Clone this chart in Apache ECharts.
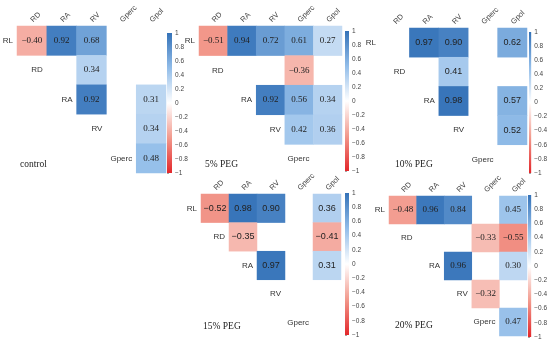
<!DOCTYPE html>
<html>
<head>
<meta charset="utf-8">
<script src="https://cdn.jsdelivr.net/npm/echarts@6/dist/echarts.min.js"></script>
<style>html,body{margin:0;padding:0;background:#fff;}#c{width:550px;height:344px;}</style>
</head>
<body>
<div id="c"></div>
<script>
// categories
const colNames = ['RD', 'RA', 'RV', 'Gperc', 'Gpol'];
const rowNames = ['RL', 'RD', 'RA', 'RV', 'Gperc'];
const panelTitles = ['control', '5% PEG', '10% PEG', '15% PEG', '20% PEG'];
const barTicks = [1, 0.8, 0.6, 0.4, 0.2, 0, -0.2, -0.4, -0.6, -0.8, -1];

// correlation matrices (rows = rowNames, cols = colNames); null = not shown
const controlValues = [
  [-0.40, 0.92, 0.68, null, null],
  [null, null, 0.34, null, null],
  [null, null, 0.92, null, 0.31],
  [null, null, null, null, 0.34],
  [null, null, null, null, 0.48]
];
const peg5Values = [
  [-0.51, 0.94, 0.72, 0.61, 0.27],
  [null, null, null, -0.36, null],
  [null, null, 0.92, 0.56, 0.34],
  [null, null, null, 0.42, 0.36],
  [null, null, null, null, null]
];
const peg10Values = [
  [null, 0.97, 0.90, null, 0.62],
  [null, null, 0.41, null, null],
  [null, null, 0.98, null, 0.57],
  [null, null, null, null, 0.52],
  [null, null, null, null, null]
];
const peg15Values = [
  [-0.52, 0.98, 0.90, null, 0.36],
  [null, -0.35, null, null, -0.41],
  [null, null, 0.97, null, 0.31],
  [null, null, null, null, null],
  [null, null, null, null, null]
];
const peg20Values = [
  [-0.48, 0.96, 0.84, null, 0.45],
  [null, null, null, -0.33, -0.55],
  [null, null, 0.96, null, 0.30],
  [null, null, null, -0.32, null],
  [null, null, null, null, 0.47]
];
const panelValues = [controlValues, peg5Values, peg10Values, peg15Values, peg20Values];

// layout
const panels = [
  {grid: {left: 17, top: 26, width: 149, height: 147}, bar: {left: 167, top: 33, width: 5, height: 140}, title: {left: 15, top: 154}, font: 'Liberation Serif'},
  {grid: {left: 199, top: 26, width: 143, height: 148}, bar: {left: 345, top: 31, width: 4, height: 140}, title: {left: 200, top: 154}, font: 'Liberation Serif'},
  {grid: {left: 380, top: 28, width: 147, height: 146}, bar: {left: 529, top: 32, width: 5, height: 141}, title: {left: 390, top: 154}, font: 'Liberation Sans'},
  {grid: {left: 201, top: 194, width: 140, height: 143}, bar: {left: 345, top: 193, width: 4, height: 142}, title: {left: 198, top: 316}, font: 'Liberation Sans'},
  {grid: {left: 389, top: 196, width: 138, height: 140}, bar: {left: 528, top: 195, width: 5, height: 142}, title: {left: 390, top: 315}, font: 'Liberation Serif'}
];

const colorStops = ['#e3272b', '#f2998c', '#ffffff', '#92bde9', '#3472b8'];

function fmt(v) {
  const s = Math.abs(v).toFixed(2);
  return v < 0 ? '\u2212' + s : s;
}
function fmtTick(v) {
  const r = Math.round(v * 10) / 10;
  return r < 0 ? '\u2212' + Math.abs(r) : String(r);
}

const grids = [], xAxes = [], yAxes = [], series = [], titles = [];
const heatIdx = [];
panels.forEach((p, i) => {
  // heatmap grid
  grids.push(Object.assign({}, p.grid));
  xAxes.push({
    type: 'category', gridIndex: 2 * i, data: colNames, position: 'top',
    axisLine: {show: false}, axisTick: {show: false}, splitLine: {show: false},
    axisLabel: {rotate: -45, fontSize: 7.5, color: '#444', margin: 5, fontFamily: 'Liberation Sans', interval: 0}
  });
  yAxes.push({
    type: 'category', gridIndex: 2 * i, data: rowNames, inverse: true,
    axisLine: {show: false}, axisTick: {show: false}, axisLabel: {show: false}, splitLine: {show: false}
  });
  // colorbar grid
  grids.push(Object.assign({}, p.bar));
  xAxes.push({type: 'value', gridIndex: 2 * i + 1, min: 0, max: 1, show: false});
  yAxes.push({
    type: 'value', gridIndex: 2 * i + 1, min: -1, max: 1, interval: 0.2, position: 'right',
    axisLine: {show: false}, splitLine: {show: false},
    axisTick: {show: true, length: 2, lineStyle: {color: '#666', width: 0.6}},
    axisLabel: {fontSize: 6.5, color: '#444', margin: 3, fontFamily: 'Liberation Sans', formatter: fmtTick}
  });

  const data = [];
  panelValues[i].forEach((row, r) => {
    row.forEach((v, c) => { if (v !== null) data.push([c, r, v]); });
  });
  heatIdx.push(series.length);
  series.push({
    type: 'heatmap', xAxisIndex: 2 * i, yAxisIndex: 2 * i, data: data,
    label: {show: true, formatter: (d) => fmt(d.value[2]), fontSize: 9, color: '#222', fontFamily: p.font},
    emphasis: {disabled: true}, itemStyle: {borderWidth: 0}
  });
  // row labels on the diagonal
  series.push({
    type: 'custom', xAxisIndex: 2 * i, yAxisIndex: 2 * i,
    data: rowNames.map((n, k) => [k, k, n]),
    renderItem: function (params, api) {
      const c = api.coord([api.value(0), api.value(1)]);
      const s = api.size([1, 1]);
      return {
        type: 'text',
        style: {x: c[0] - s[0] / 2 - 4, y: c[1], text: rowNames[params.dataIndex], align: 'right', verticalAlign: 'middle',
          fontSize: 8, fill: '#333', fontFamily: 'Liberation Sans'}
      };
    },
    silent: true
  });
  // colorbar
  series.push({
    type: 'custom', xAxisIndex: 2 * i + 1, yAxisIndex: 2 * i + 1,
    data: [[0, -1, 1, 1]],
    renderItem: function (params, api) {
      const tl = api.coord([api.value(0), api.value(2)]);
      const br = api.coord([api.value(3), api.value(1)]);
      return {
        type: 'rect',
        shape: {x: tl[0], y: tl[1], width: br[0] - tl[0], height: br[1] - tl[1]},
        style: {fill: new echarts.graphic.LinearGradient(0, 0, 0, 1, colorStops.slice().reverse().map((c, k) => ({offset: k / (colorStops.length - 1), color: c})))}
      };
    },
    silent: true
  });
  titles.push({text: panelTitles[i], left: p.title.left, top: p.title.top,
    textStyle: {fontSize: 9.5, fontWeight: 'normal', color: '#222', fontFamily: 'Liberation Serif'}});
});

const chart = echarts.init(document.getElementById('c'), null, {renderer: 'canvas'});
chart.setOption({
  backgroundColor: '#fff',
  animation: false,
  title: titles,
  grid: grids,
  xAxis: xAxes,
  yAxis: yAxes,
  visualMap: {
    show: false, type: 'continuous', min: -1, max: 1, dimension: 2,
    seriesIndex: heatIdx, inRange: {color: colorStops}
  },
  series: series
});
</script>
</body>
</html>
